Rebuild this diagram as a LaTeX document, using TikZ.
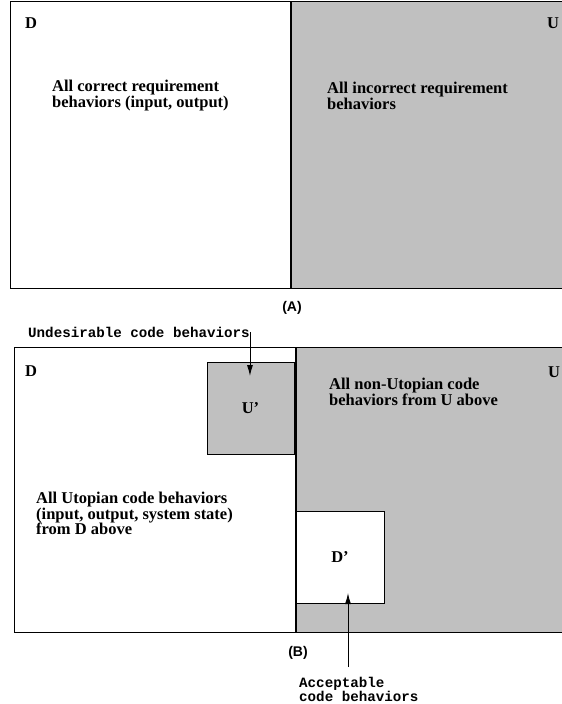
\documentclass[tikz,border=0pt]{standalone}
\usepackage{fontspec}
\setmainfont{Liberation Serif}
\setsansfont{Liberation Sans}
\setmonofont{Liberation Mono}
\usepackage{xcolor}
\usetikzlibrary{arrows.meta, positioning}
\definecolor{setgray}{HTML}{C0C0C0}

\begin{document}
\begin{tikzpicture}[x=1pt, y=-1pt, >={Latex[length=11pt,width=6pt]},
  region/.style={draw, line width=1pt},
  divider/.style={line width=2.4pt},
  setbox/.style={draw, line width=0.9pt, minimum width=87pt, minimum height=92pt, inner sep=0pt, font=\fontsize{16.5}{16}\selectfont\bfseries},
  tag/.style={inner sep=0pt, anchor=base west, font=\fontsize{16.5}{16}\selectfont\bfseries},
  desc/.style={inner sep=0pt, anchor=north west, align=left, font=\fontsize{16.5}{15.5}\selectfont\bfseries},
  caption/.style={inner sep=0pt, font=\fontsize{14}{14}\selectfont\sffamily\bfseries},
  note/.style={inner sep=0pt, align=left, font=\fontsize{14.2}{12}\selectfont\ttfamily\bfseries},
  pointer/.style={->, line width=0.9pt}]
\useasboundingbox (0,0) rectangle (562,704);
\clip (0,0) rectangle (562,704);

% Panel (A)
\fill[setgray] (291,1) rectangle (580,288);
\draw[region] (580,1) -- (10,1) -- (10,288) -- (580,288);
\draw[divider] (291,1) -- (291,288);
\node[tag] (dA) at (25,28) {D};
\node[tag] (uA) at (547,28) {U};
\node[desc] (correct) at (52,80) {All correct requirement\\behaviors (input, output)};
\node[desc] (incorrect) at (327,82) {All incorrect requirement\\behaviors};
\node[caption] (capA) at (292,308) {(A)};

% Panel (B)
\fill[setgray] (296,347) rectangle (580,632);
\draw[region] (580,347) -- (14,347) -- (14,632) -- (580,632);
\node[setbox, fill=setgray] (uprime) at (250.5,408) {U’};
\node[setbox, fill=white, minimum width=88pt] (dprime) at (340,557) {D’};
\draw[divider] (296,347) -- (296,632);
\node[tag] (dB) at (25,376) {D};
\node[tag] (uB) at (548,377) {U};
\node[desc] (utopian) at (36,492) {All Utopian code behaviors\\(input, output, system state)\\from D above};
\node[desc] (nonutopian) at (329,378) {All non-Utopian code\\behaviors from U above};
\node[caption] (capB) at (298,653) {(B)};

% Notes
\node[note, anchor=base west] (undes) at (28,337) {Undesirable code behaviors};
\node[note, anchor=north west] (accept) at (299,677) {Acceptable\\code behaviors};
\coordinate (utip) at (250,376);
\coordinate (atip) at (348,593);
\draw[pointer] (undes.east) -- (undes.east |- utip);
\draw[pointer, shorten <=10pt] (accept.north -| atip) -- (atip);
\end{tikzpicture}
\end{document}
